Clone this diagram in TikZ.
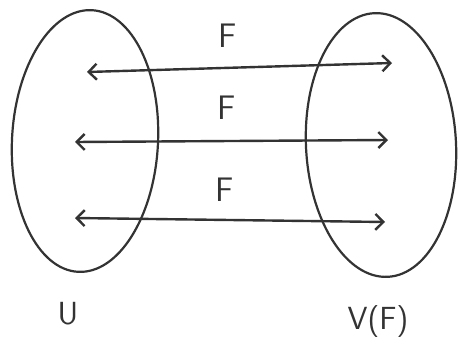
\documentclass[tikz,border=0pt]{standalone}
\usepackage{fontspec}
\usetikzlibrary{arrows.meta,shapes.geometric}
\tikzset{
  pen/.style={line width=2.2pt, draw=black!80, line cap=round, line join=round},
  setblob/.style={pen, ellipse, minimum width=#1},
  mapsto/.style={pen, line width=2.4pt, {Straight Barb[length=8pt,width=16pt]}-{Straight Barb[length=8pt,width=16pt]}},
  flabel/.style={font=\fontsize{34}{34}\sffamily, text=black!80, inner sep=0pt},
  setlabel/.style={font=\fontsize{32}{32}\sffamily, text=black!80, inner sep=0pt}
}
\begin{document}
\begin{tikzpicture}[x=1pt,y=-1pt]
  \useasboundingbox (0,0) rectangle (460,343);
  % the two sets
  \node[setblob=146pt, minimum height=262pt, rotate=-3] (U) at (85,141) {};
  \node[setblob=150pt, minimum height=264pt, rotate=3] (V) at (381,145) {};
  % arrow ends inside the sets
  \coordinate (u1) at (87,72);
  \coordinate (v1) at (392,63);
  \coordinate (u2) at (75,142);
  \coordinate (v2) at (388,140);
  \coordinate (u3) at (75,218);
  \coordinate (v3) at (385,222);
  \draw[mapsto] (u1) -- (v1);
  \draw[mapsto] (u2) -- (v2);
  \draw[mapsto] (u3) -- (v3);
  % labels
  \node[flabel] (f1) at (228,36) {F};
  \node[flabel] (f2) at (227,108) {F};
  \node[flabel] (f3) at (225,190) {F};
  \node[setlabel] (lu) at (68,314) {U};
  \node[setlabel] (lv) at (378,322) {V(F)};
\end{tikzpicture}
\end{document}
